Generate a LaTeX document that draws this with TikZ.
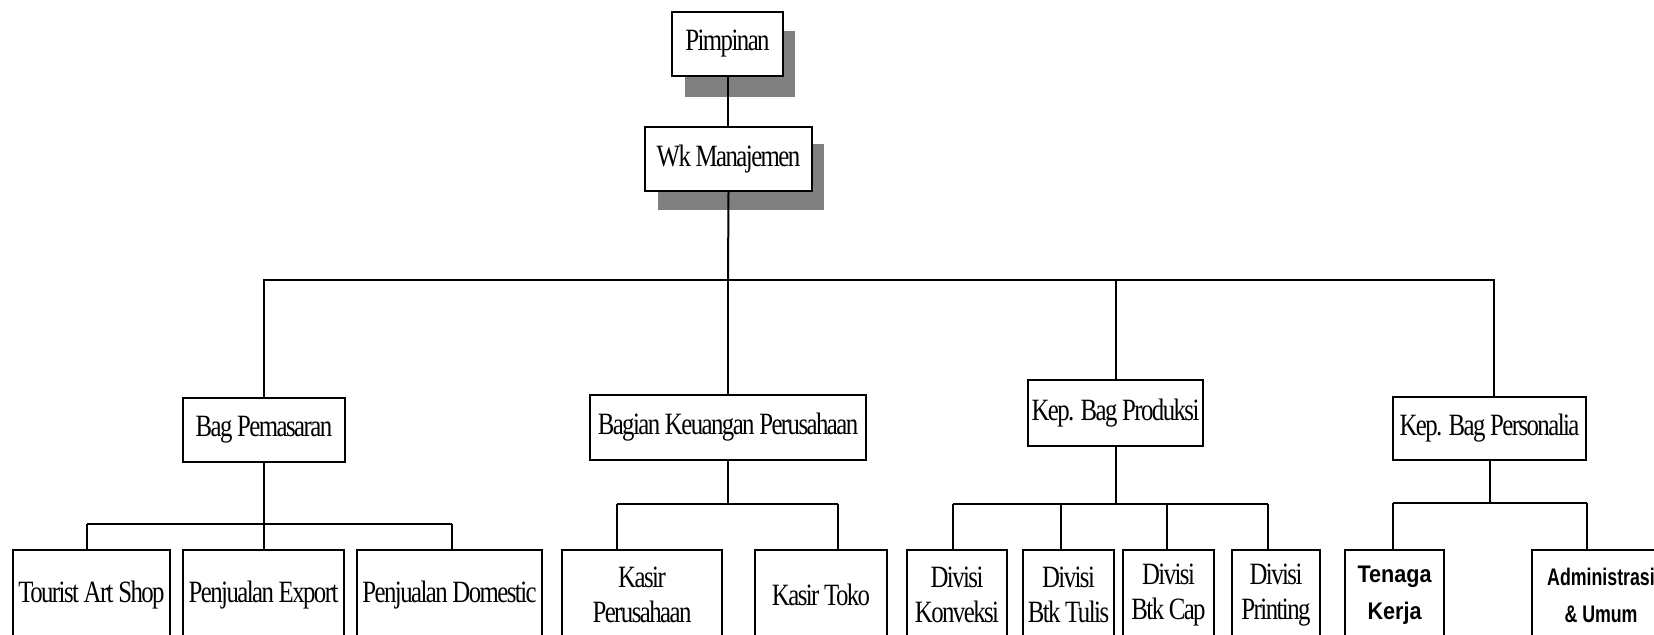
\documentclass[tikz,border=0pt]{standalone}
\usepackage{fontspec}
\usetikzlibrary{backgrounds}
\setmainfont{Liberation Serif}[FakeStretch=0.8, LetterSpace=-5]
\newfontfamily\hsans{Liberation Sans}[FakeStretch=0.9]
\newfontfamily\hsansn{Liberation Sans}[FakeStretch=0.74]
\newcommand\tmfont{\fontsize{15.5}{17.5}\selectfont}
\newcommand\hsfont{\hsans\bfseries\fontsize{12}{18.5}\selectfont}
\newcommand\hsnfont{\hsansn\bfseries\fontsize{12}{18.5}\selectfont}
\begin{document}
\begin{tikzpicture}[x=0.5pt,y=-0.5pt,
  box/.style={draw, line width=1pt, fill=white, inner sep=0pt, font=\tmfont, align=center},
  leaf/.style={box, minimum height=45pt},
  sleaf/.style={leaf, font=\hsfont},
  link/.style={line width=1pt},
  shadowfill/.style={fill=black!50}]
\clip (0,0) rectangle (1654,635);

% top nodes
\node[box, minimum width=55.5pt, minimum height=32pt] (pim) at (727.5,44) {Pimpinan};
\node[box, minimum width=83.5pt, minimum height=32pt] (wk) at (728.5,159) {Wk Manajemen};
% shadows
\begin{scope}[on background layer]
\fill[white] (0,0) rectangle (1654,635);
\fill[shadowfill] ([shift={(14,20)}]pim.south west) rectangle ([shift={(11,20)}]pim.north east);
\fill[shadowfill] ([shift={(14,18)}]wk.south west) rectangle ([shift={(11,18)}]wk.north east);
\end{scope}

% second level
\node[box, minimum width=81pt, minimum height=32pt] (pem) at (264,430) {Bag Pemasaran};
\node[box, minimum width=138pt, minimum height=32.5pt] (keu) at (728,427.5) {Bagian Keuangan Perusahaan};
\node[box, minimum width=87.5pt, minimum height=33pt] (prod) at (1115.5,413) {Kep. Bag Produksi};
\node[box, minimum width=96.5pt, minimum height=31.5pt] (pers) at (1489.5,428.5) {Kep. Bag Personalia};

% leaves
\node[leaf, minimum width=78.5pt] (tas) at (91.5,595) {Tourist Art Shop};
\node[leaf, minimum width=80.5pt] (exp) at (263.5,595) {Penjualan Export};
\node[leaf, minimum width=92.5pt] (dom) at (449.5,595) {Penjualan Domestic};
\node[leaf, minimum width=80pt] (kp) at (642,595) {Kasir\\Perusahaan};
\node[leaf, minimum width=66pt] (kt) at (821,595) {Kasir Toko};
\node[leaf, minimum width=50pt] (kon) at (957,595) {Divisi\\Konveksi};
\node[leaf, minimum width=45.5pt] (btu) at (1068.5,595) {Divisi\\Btk Tulis};
\node[leaf, minimum width=45.5pt] (bca) at (1168.5,595) {Divisi\\Btk Cap};
\node[leaf, minimum width=44pt] (pri) at (1276,595) {Divisi\\Printing};
\node[sleaf, minimum width=49.5pt] (ten) at (1394.5,595) {Tenaga\\Kerja};
\node[sleaf, font=\hsnfont, minimum width=69pt] (adm) at (1601,595) {Administrasi\\\& Umum};

% connectors
\draw[link] (pim.south) -- (pim.south |- wk.north);
\coordinate (j0) at (728,280);
\draw[link] (wk.south) -- (j0);
\draw[link] (j0) -| (pem.north);
\draw[link] (j0) -- (keu.north);
\draw[link] (j0) -| (prod.north);
\coordinate (pr) at (1494,280);
\draw[link] (j0) -- (pr) -- (pr |- pers.north);

% Pemasaran group
\coordinate (pa) at (87,524);
\coordinate (pb) at (452,524);
\draw[link] (pem.south) -- (pem.south |- pa);
\draw[link] (pa) -- (pb);
\draw[link] (pa) -- (pa |- tas.north);
\draw[link] (pem.south |- pa) -- (pem.south |- exp.north);
\draw[link] (pb) -- (pb |- dom.north);

% Keuangan group
\coordinate (ka) at (617,504);
\coordinate (kb) at (838,504);
\draw[link] (keu.south) -- (keu.south |- ka);
\draw[link] (ka) -- (kb);
\draw[link] (ka) -- (ka |- kp.north);
\draw[link] (kb) -- (kb |- kt.north);

% Produksi group
\coordinate (da) at (953,504);
\coordinate (db) at (1061,504);
\coordinate (dc) at (1167,504);
\coordinate (dd) at (1268,504);
\draw[link] (prod.south) -- (prod.south |- da);
\draw[link] (da) -- (dd);
\draw[link] (da) -- (da |- kon.north);
\draw[link] (db) -- (db |- btu.north);
\draw[link] (dc) -- (dc |- bca.north);
\draw[link] (dd) -- (dd |- pri.north);

% Personalia group
\coordinate (sa) at (1393,503);
\coordinate (sb) at (1587,503);
\draw[link] (pers.south) -- (pers.south |- sa);
\draw[link] (sa) -- (sb);
\draw[link] (sa) -- (sa |- ten.north);
\draw[link] (sb) -- (sb |- adm.north);
\end{tikzpicture}
\end{document}
